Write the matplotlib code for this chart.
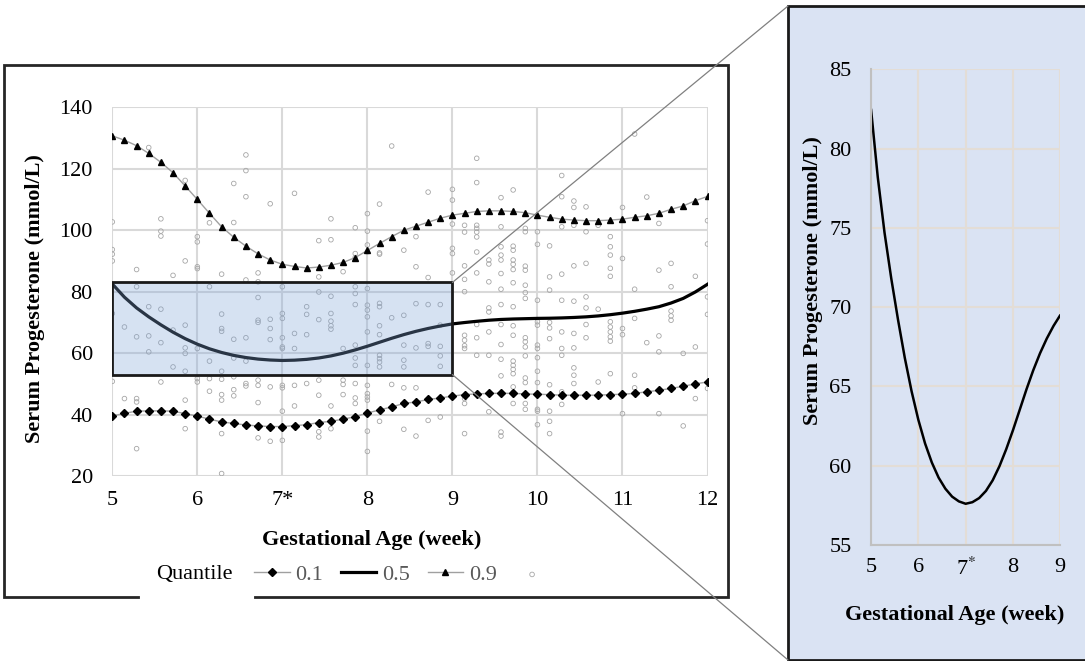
import numpy as np
import matplotlib
matplotlib.use("Agg")
import matplotlib.pyplot as plt
from matplotlib.patches import Rectangle, ConnectionPatch
from matplotlib.lines import Line2D

plt.rcParams["font.family"] = ["Liberation Serif", "DejaVu Serif"]
plt.rcParams["mathtext.fontset"] = "stix"

# gestational age in days (35 = week 5 ... 84 = week 12)
days = np.arange(35, 85)
weeks = days / 7.0

q10 = [39.5, 40.4, 41.1, 41.2, 41.2, 41.1, 40.3, 39.5, 38.5, 37.6,
       37.1, 36.6, 36.3, 36.1, 36.1, 36.4, 36.7, 37.4, 37.8, 38.5,
       39.3, 40.5, 41.5, 42.5, 43.6, 44.1, 44.9, 45.4, 46.0, 46.5,
       46.7, 46.9, 46.9, 46.9, 46.7, 46.6, 46.5, 46.3, 46.3, 46.3,
       46.3, 46.5, 46.6, 46.9, 47.4, 47.9, 48.5, 49.2, 50.0, 50.6]

q50 = [82.5, 78.2, 74.7, 71.8, 69.2, 66.8, 64.7, 62.9, 61.4, 60.2,
       59.25, 58.55, 58.05, 57.75, 57.6, 57.7, 57.96, 58.41, 59.08, 59.97,
       61.04, 62.24, 63.53, 64.82, 66.02, 67.09, 68.02, 68.82, 69.5, 69.95,
       70.35, 70.7, 70.95, 71.1, 71.2, 71.3, 71.35, 71.45, 71.6, 71.8,
       72.1, 72.5, 73.0, 73.6, 74.3, 75.1, 76.3, 77.8, 79.9, 82.4]

q90 = [130.7, 129.3, 127.5, 125.0, 122.1, 118.7, 114.4, 110.0, 105.5, 101.1,
       97.7, 94.8, 92.3, 90.3, 88.9, 88.2, 87.7, 88.0, 88.6, 89.5,
       91.1, 93.4, 95.7, 97.9, 100.0, 101.3, 102.6, 103.9, 104.9, 105.5,
       106.1, 106.3, 106.3, 106.1, 105.7, 104.9, 104.2, 103.6, 103.3, 103.1,
       103.1, 103.3, 103.6, 104.2, 104.7, 105.5, 106.8, 107.9, 109.6, 111.0]

# observed values, one list per day (same order as `days`)
obs_by_day = [
    [102.7, 93.7, 92.2, 90.0, 72.9, 50.8],
    [68.5, 45.2],
    [87.2, 81.6, 65.3, 45.2, 44.1, 28.9],
    [126.9, 75.1, 65.6, 60.4],
    [103.7, 99.7, 98.1, 74.3, 63.4, 50.6],
    [85.3, 67.5, 55.5],
    [116.2, 90.0, 69.1, 61.7, 59.9, 54.1, 44.7, 35.4],
    [97.9, 96.2, 88.1, 87.5, 61.5, 51.7, 50.6],
    [102.4, 81.6, 57.4, 51.7, 47.6],
    [85.7, 72.7, 68.0, 67.1, 54.1, 51.5, 46.5, 44.7, 33.8, 20.8],
    [115.2, 102.5, 64.5, 58.4, 52.3, 48.1, 46.1],
    [124.5, 119.4, 110.9, 83.8, 65.0, 57.4, 50.1, 49.3],
    [86.1, 83.2, 78.1, 70.7, 70.0, 51.2, 49.5, 43.9, 32.4],
    [108.6, 71.0, 68.0, 64.4, 49.0, 31.3],
    [81.6, 72.9, 71.3, 65.0, 62.0, 61.5, 49.5, 48.7, 41.1, 31.6],
    [112.0, 66.4, 61.5, 49.5, 42.8],
    [75.1, 72.6, 66.0, 50.1],
    [96.6, 84.8, 79.9, 70.9, 51.2, 46.3, 34.4, 32.7],
    [103.7, 96.9, 78.5, 72.9, 70.4, 68.9, 67.8, 42.8, 35.4],
    [86.5, 61.5, 51.2, 49.8, 46.5],
    [100.8, 92.4, 91.1, 81.6, 79.4, 75.8, 62.6, 58.4, 56.0, 50.1, 45.4, 43.6],
    [105.4, 99.7, 95.2, 93.0, 81.0, 75.6, 74.0, 71.8, 66.9, 56.0, 49.5, 46.8,
     45.7, 44.7, 34.6, 28.0],
    [108.5, 92.6, 92.2, 76.2, 75.1, 68.9, 66.0, 59.3, 58.2, 57.1, 55.5, 37.8],
    [127.4, 71.5, 49.8],
    [93.5, 72.3, 62.6, 57.7, 55.5, 48.7, 35.2],
    [97.9, 88.1, 76.1, 61.7, 48.7, 33.0],
    [112.4, 84.6, 75.8, 63.1, 62.2, 38.1],
    [75.8, 69.1, 62.2, 59.1, 55.7, 39.2],
    [113.3, 109.8, 102.0, 94.1, 92.4, 86.1],
    [101.6, 99.4, 88.4, 84.0, 80.0, 65.8, 64.2, 62.4, 61.5, 45.2, 43.6, 33.8],
    [123.4, 115.5, 101.6, 100.6, 99.4, 97.8, 92.9, 86.1, 69.3, 65.0, 59.3],
    [90.3, 89.0, 83.2, 74.7, 73.4, 66.9, 59.3, 40.9],
    [110.6, 101.1, 94.6, 91.9, 90.3, 85.9, 80.8, 75.8, 69.3, 62.8, 58.0, 52.6,
     34.3, 33.0],
    [113.1, 94.8, 93.5, 90.3, 88.9, 87.2, 82.9, 75.1, 68.9, 65.8, 57.4, 56.0,
     54.7, 53.3, 49.0, 47.2, 43.6],
    [100.6, 99.5, 88.3, 87.0, 82.1, 79.7, 77.8, 65.0, 63.7, 62.0, 59.1, 51.9,
     50.4, 43.6, 41.7],
    [99.5, 95.4, 77.2, 70.2, 69.1, 62.6, 61.5, 58.5, 54.1, 50.4, 41.7, 41.1, 36.7],
    [94.9, 84.8, 80.5, 70.0, 68.2, 64.7, 49.7, 41.1, 37.8, 33.8],
    [117.8, 110.9, 101.1, 85.7, 77.2, 66.9, 61.5, 59.3, 47.4, 43.3],
    [109.5, 107.4, 101.6, 88.4, 76.9, 66.4, 61.7, 55.2, 52.8, 50.1],
    [107.6, 99.5, 89.2, 78.3, 74.7, 69.3, 65.0],
    [101.6, 74.3, 50.6],
    [97.9, 94.6, 91.9, 87.6, 85.0, 70.2, 68.5, 66.9, 65.3, 63.9, 53.3],
    [107.4, 90.8, 68.0, 66.0, 40.3],
    [131.3, 80.8, 71.3, 52.8, 48.7],
    [110.8, 63.4],
    [102.2, 87.0, 65.6, 60.4, 40.3],
    [89.2, 81.6, 73.7, 72.1, 70.7],
    [59.9, 36.3],
    [85.0, 62.0, 45.2],
    [103.1, 95.5, 78.3, 72.6, 48.5],
]

zoom_x = (5, 9)
zoom_y = (53, 83)

W, H = 1085, 661
fig = plt.figure(figsize=(W / 100, H / 100), dpi=100, facecolor="white")


def fx(px):
    return px / W


def fy(py):
    return 1 - py / H


# frames around the two panels
fig.add_artist(Rectangle((fx(4), fy(597)), fx(724), 532 / H, transform=fig.transFigure,
                         fill=False, edgecolor="#262626", linewidth=2, zorder=-1))
fig.add_artist(Line2D([fx(142), fx(252)], [fy(597), fy(597)], transform=fig.transFigure,
                      color="white", linewidth=3, zorder=0))
fig.add_artist(Rectangle((fx(788), fy(660)), 0.4, 654 / H, transform=fig.transFigure,
                         facecolor="#dae3f3", edgecolor="#1a1a1a", linewidth=2, zorder=-1))

# ---------- main panel ----------
ax = fig.add_axes([fx(112.3), fy(476), (707.5 - 112.3) / W, (476 - 107.3) / H])
ax.set_facecolor("none")
pt_x = np.concatenate([[w] * len(v) for w, v in zip(weeks, obs_by_day)])
pt_y = np.concatenate(obs_by_day)
sc = ax.scatter(pt_x, pt_y, s=11, facecolors="none", edgecolors="#a6a6a6",
                linewidths=0.6, zorder=2)
l10, = ax.plot(weeks, q10, color="#a0a0a0", linewidth=1, marker="D", markersize=4.5,
               markerfacecolor="black", markeredgecolor="black", zorder=3)
l50, = ax.plot(weeks, q50, color="black", linewidth=2.3, zorder=3,
               solid_joinstyle="round")
l90, = ax.plot(weeks, q90, color="#a0a0a0", linewidth=1, marker="^", markersize=5,
               markerfacecolor="black", markeredgecolor="black", zorder=3)
ax.add_patch(Rectangle((zoom_x[0], zoom_y[0]), zoom_x[1] - zoom_x[0], zoom_y[1] - zoom_y[0],
                       facecolor=(0.50, 0.65, 0.85, 0.32), edgecolor="#1a1a1a",
                       linewidth=2, zorder=4))
ax.set_xlim(5, 12)
ax.set_ylim(20, 140)
ax.set_xticks(range(5, 13))
ax.set_xticklabels(["5", "6", "7*", "8", "9", "10", "11", "12"])
ax.set_yticks(range(20, 141, 20))
ax.grid(True, color="#d9d9d9", linewidth=1.5)
ax.set_axisbelow(True)
for s in ax.spines.values():
    s.set_visible(False)
ax.tick_params(axis="both", length=0, labelsize=16)
ax.tick_params(axis="x", pad=11)
ax.tick_params(axis="y", pad=14)

fig.text(fx(372), fy(540), "Gestational Age (week)", ha="center", va="center",
         fontsize=16, fontweight="bold")
fig.text(fx(35), fy(299), "Serum Progesterone (mmol/L)", ha="center", va="center",
         rotation=90, fontsize=16, fontweight="bold")

fig.text(fx(156), fy(575), "Quantile", ha="left", va="center", fontsize=16)
fig.legend([l10, l50, l90, sc], ["0.1", "0.5", "0.9", ""], loc="center left",
           bbox_to_anchor=(fx(254), fy(575)), ncol=4, frameon=False, fontsize=16,
           labelcolor="#595959", handlelength=1.6, handletextpad=0.25,
           columnspacing=0.8, borderpad=0, borderaxespad=0)

# ---------- zoom panel ----------
ax2 = fig.add_axes([fx(871), fy(545), (1060.3 - 871) / W, (545 - 69.3) / H])
ax2.set_facecolor("none")
m = (weeks >= zoom_x[0]) & (weeks <= zoom_x[1])
ax2.plot(weeks[m], np.array(q50)[m], color="black", linewidth=1.8,
         solid_joinstyle="round", solid_capstyle="round")
ax2.set_xlim(5, 9)
ax2.set_ylim(55, 85)
ax2.set_xticks(range(5, 10))
ax2.set_xticklabels(["5", "6", "7$^{*}$", "8", "9"])
ax2.set_yticks(range(55, 86, 5))
ax2.grid(True, color="#e3ddd6", linewidth=1.5)
ax2.set_axisbelow(True)
for k, s in ax2.spines.items():
    if k in ("left", "bottom"):
        s.set_color("#c0c0c0")
        s.set_linewidth(1.5)
    else:
        s.set_visible(False)
ax2.tick_params(axis="both", length=0, labelsize=16)
ax2.tick_params(axis="x", pad=9)
ax2.tick_params(axis="y", pad=14)

fig.text(fx(955), fy(615), "Gestational Age (week)", ha="center", va="center",
         fontsize=16, fontweight="bold")
fig.text(fx(813), fy(281), "Serum Progesterone (mmol/L)", ha="center", va="center",
         rotation=90, fontsize=16, fontweight="bold")

# connector lines from the highlighted box to the zoom panel
for yd, yp in ((zoom_y[1], 6), (zoom_y[0], 660)):
    con = ConnectionPatch(xyA=(zoom_x[1], yd), coordsA=ax.transData,
                          xyB=(fx(788), fy(yp)), coordsB=fig.transFigure,
                          color="#808080", linewidth=0.9, zorder=5)
    fig.add_artist(con)

fig.savefig("out.png", dpi=100, facecolor="white")
